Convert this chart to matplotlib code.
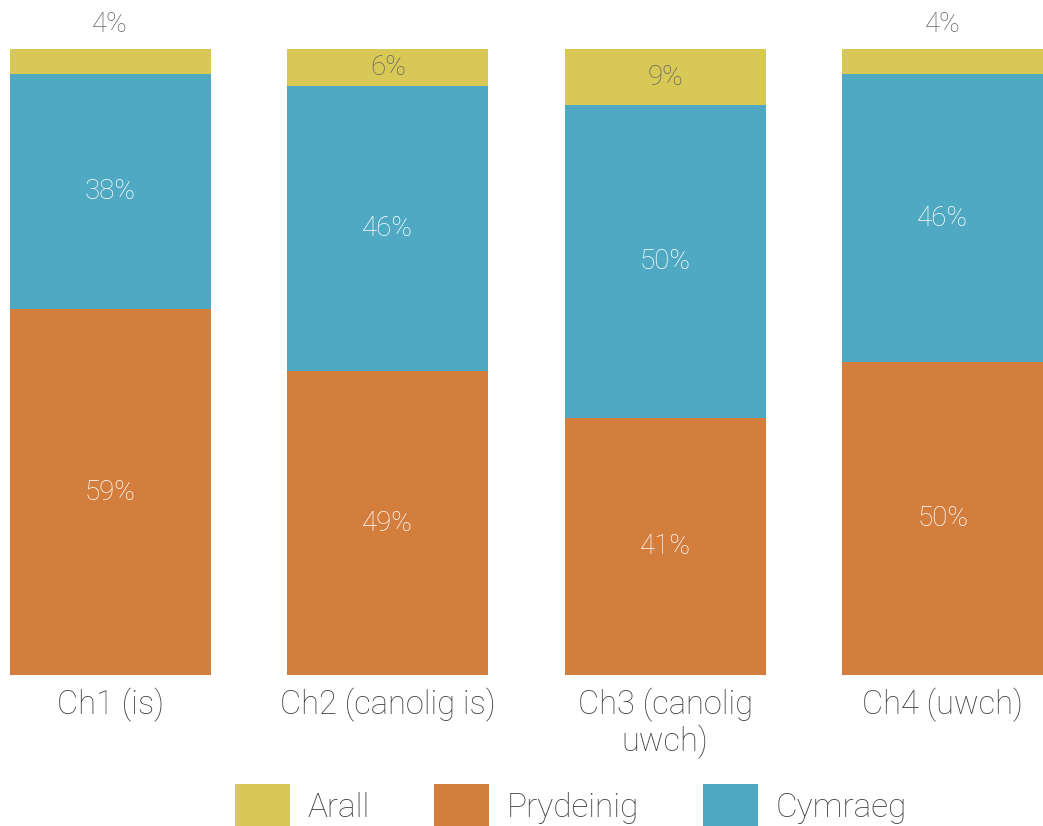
import matplotlib
matplotlib.use("Agg")
import matplotlib.pyplot as plt
import numpy as np
from matplotlib.patches import Patch

# stacked shares per level (percent, as labelled)
levels = ["Ch1 (is)", "Ch2 (canolig is)", "Ch3 (canolig\nuwch)", "Ch4 (uwch)"]
prydeinig = [59, 49, 41, 50]
cymraeg = [38, 46, 50, 46]
arall = [4, 6, 9, 4]

c_arall = "#D8C957"
c_pryd = "#D47E3E"
c_cym = "#50A9C2"

plt.rcParams["font.family"] = ["Roboto", "DejaVu Sans"]
plt.rcParams["font.weight"] = "light"

fig = plt.figure(figsize=(10.43, 8.26), dpi=100)
ax = fig.add_axes([10 / 1043, 1 - 675 / 826, 1033 / 1043, (675 - 49) / 826])

x = np.arange(len(levels))
w = 0.723
tot = np.array(prydeinig) + np.array(cymraeg) + np.array(arall)
p = np.array(prydeinig) / tot * 100
c = np.array(cymraeg) / tot * 100
a = np.array(arall) / tot * 100

b1 = ax.bar(x, p, w, color=c_pryd, label="Prydeinig")
b2 = ax.bar(x, c, w, bottom=p, color=c_cym, label="Cymraeg")
b3 = ax.bar(x, a, w, bottom=p + c, color=c_arall, label="Arall")

ax.bar_label(b1, labels=["%d%%" % v for v in prydeinig], label_type="center",
             color="white", fontsize=20)
ax.bar_label(b2, labels=["%d%%" % v for v in cymraeg], label_type="center",
             color="white", fontsize=20)
# small segments get their label above the bar
for i, v in enumerate(arall):
    if v < 5:
        ax.text(x[i], 102.7, "%d%%" % v, ha="center", va="baseline",
                color="#666666", fontsize=20, clip_on=False)
    else:
        ax.text(x[i], p[i] + c[i] + a[i] / 2, "%d%%" % v, ha="center",
                va="center", color="#666666", fontsize=20)

ax.set_xlim(-w / 2, 3 + w / 2)
ax.set_ylim(0, 100)
ax.set_xticks(x)
ax.set_xticklabels(levels, fontsize=23.5, color="#444444", linespacing=1.1)
ax.tick_params(axis="x", length=0, pad=9)
ax.set_yticks([])
for s in ax.spines.values():
    s.set_visible(False)

handles = [Patch(facecolor=c_arall), Patch(facecolor=c_pryd), Patch(facecolor=c_cym)]
fig.legend(handles, ["Arall", "Prydeinig", "Cymraeg"], loc="center",
           bbox_to_anchor=(571 / 1043, 1 - 806 / 826), ncol=3, frameon=False,
           fontsize=24, labelcolor="#444444", handlelength=1.65, handleheight=1.65,
           handletextpad=0.55, columnspacing=1.9, borderpad=0)

fig.savefig("out.png", dpi=100)
